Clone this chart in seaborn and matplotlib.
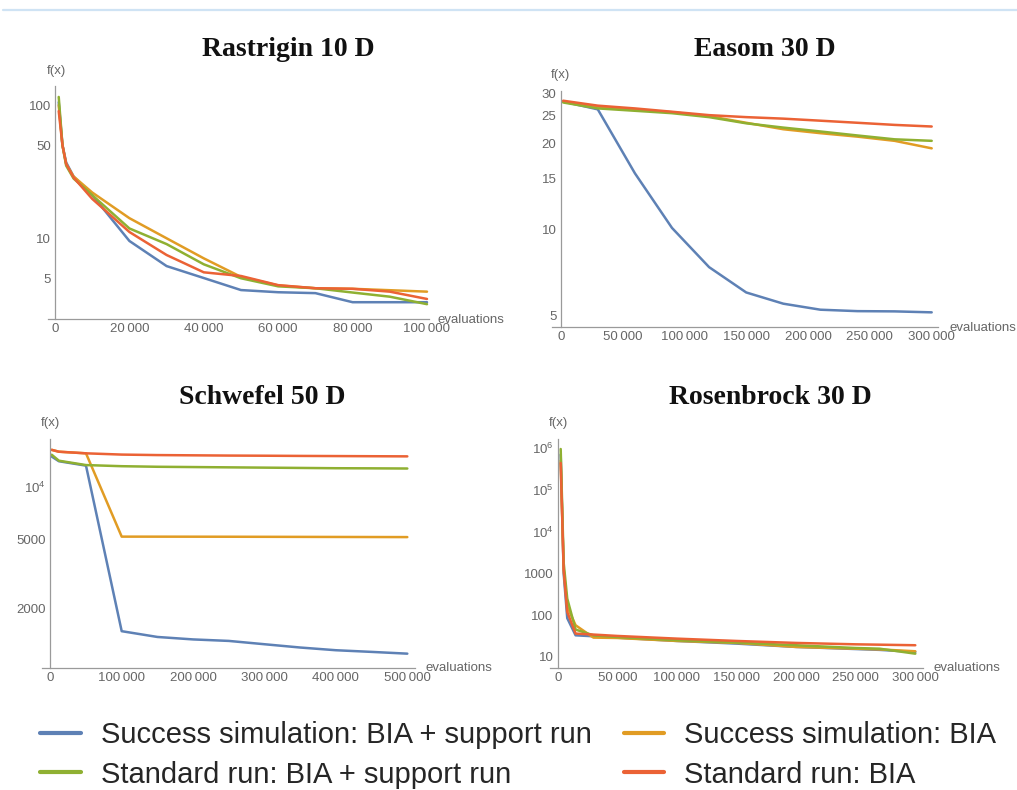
"""
Convergence of BIA runs on four benchmark functions (log-scale f(x) vs evaluations).
"""
import numpy as np
import pandas as pd
import matplotlib
matplotlib.use('Agg')
import matplotlib.pyplot as plt
import matplotlib.ticker as mticker
from matplotlib.lines import Line2D
import seaborn as sns

# ---- data ----
series_names = ['Success simulation: BIA + support run', 'Success simulation: BIA',
                'Standard run: BIA + support run', 'Standard run: BIA']

# Rastrigin 10 D
ras_x = [1000, 2000, 3000, 5000, 10000, 20000, 30000, 40000, 50000, 60000, 70000, 80000, 90000, 100000]
ras_blue = [105, 50, 37, 29, 21, 9.5, 6.15, 5.0, 4.06, 3.91, 3.85, 3.29, 3.29, 3.29]
ras_orange = [100, 50, 36, 29, 22, 14.1, 9.95, 7.03, 5.1, 4.4, 4.19, 4.15, 4.05, 3.95]
ras_green = [115, 50, 35, 28, 21, 11.8, 9.0, 6.34, 4.98, 4.33, 4.19, 3.89, 3.62, 3.18]
ras_red = [90, 50, 36, 28.5, 19.7, 11.1, 7.45, 5.52, 5.18, 4.42, 4.19, 4.15, 3.95, 3.48]

# Easom 30 D
eas_x = [2000, 30000, 60000, 90000, 120000, 150000, 180000, 210000, 240000, 270000, 300000]
eas_blue = [28.0, 26.3, 15.7, 10.1, 7.36, 6.0, 5.48, 5.22, 5.16, 5.15, 5.11]
eas_orange = [28.0, 26.9, 26.2, 25.7, 24.9, 23.6, 22.4, 21.7, 21.1, 20.4, 19.2]
eas_green = [27.8, 26.5, 26.0, 25.5, 24.7, 23.5, 22.7, 22.0, 21.3, 20.65, 20.4]
eas_red = [28.2, 27.1, 26.5, 25.8, 25.1, 24.7, 24.4, 24.0, 23.6, 23.2, 22.9]

# Schwefel 50 D
sch_x = [2000, 12000, 50000, 100000, 150000, 200000, 250000, 300000, 350000, 400000, 450000, 500000]
sch_blue = [15000, 14100, 13300, 1477, 1368, 1324, 1298, 1242, 1189, 1147, 1122, 1096]
sch_orange = [16400, 16000, 15660, 5182, 5180, 5178, 5175, 5170, 5165, 5160, 5155, 5150]
sch_green = [15370, 14200, 13400, 13200, 13100, 13050, 13000, 12950, 12900, 12850, 12830, 12800]
sch_red = [16400, 16000, 15660, 15400, 15300, 15250, 15200, 15170, 15130, 15100, 15070, 15040]

# Rosenbrock 30 D
ros_x = [2500, 5000, 8000, 15000, 30000, 50000, 100000, 150000, 200000, 250000, 270000, 300000]
ros_blue = [7e5, 1000, 85, 33, 31.3, 29, 24.2, 20.9, 17.4, 15.5, 14.8, 13.2]
ros_orange = [5e5, 1300, 160, 57.5, 29.1, 28.5, 24.2, 21.7, 17.4, 15.8, 15.2, 13.7]
ros_green = [9.5e5, 1800, 250, 45.3, 33, 30, 25.1, 22.1, 19.1, 16.4, 15.8, 12.0]
ros_red = [4.4e5, 1200, 120, 36.3, 34.4, 31.9, 27.5, 24.2, 21.7, 20.1, 19.7, 19.1]

colors = ['#5E81B5', '#E19C24', '#8FB032', '#EB6235']

W, H = 1017, 790
AXIS_COLOR = '#9a9a9a'
LABEL_COLOR = '#666666'

sns.set_theme(style='white')
plt.rcParams['font.family'] = ['Liberation Sans', 'DejaVu Sans']
plt.rcParams['mathtext.fontset'] = 'custom'
plt.rcParams['mathtext.rm'] = 'Liberation Sans'


def px_rect(l, t, r, b):
    return [l / W, 1 - b / H, (r - l) / W, (b - t) / H]


def fmt_x(v, pos):
    if v == 0:
        return '0'
    return f'{int(round(v)):,}'.replace(',', '\u2009')


def draw_panel(fig, rect, x, values, xlim, ylim, xmajor, xminor,
               yticks, ylabels, yminor, title, title_xy, fx_xy, eval_xy):
    ax = fig.add_axes(px_rect(*rect))
    n = len(x)
    df = pd.DataFrame({
        'evaluations': np.tile(x, 4),
        'f': np.concatenate(values),
        'series': np.repeat(series_names, n),
    })
    sns.lineplot(data=df, x='evaluations', y='f', hue='series', hue_order=series_names,
                 palette=colors, estimator=None, sort=False, legend=False,
                 linewidth=1.8, ax=ax)
    ax.set_yscale('log')
    ax.set_xlim(*xlim)
    ax.set_ylim(*ylim)
    ax.set_xlabel('')
    ax.set_ylabel('')

    # Mathematica-like axes: left axis through x=0, ticks pointing inside
    for s in ['top', 'right']:
        ax.spines[s].set_visible(False)
    ax.spines['left'].set_position(('data', 0))
    for s in ['left', 'bottom']:
        ax.spines[s].set_color(AXIS_COLOR)
        ax.spines[s].set_linewidth(0.9)

    ax.xaxis.set_major_locator(mticker.MultipleLocator(xmajor))
    ax.xaxis.set_minor_locator(mticker.MultipleLocator(xminor))
    ax.xaxis.set_major_formatter(mticker.FuncFormatter(fmt_x))
    ax.yaxis.set_major_locator(mticker.FixedLocator(yticks))
    ax.yaxis.set_major_formatter(mticker.FixedFormatter(ylabels))
    if yminor is None:
        ax.yaxis.set_minor_locator(mticker.LogLocator(base=10, subs=np.arange(2, 10), numticks=20))
    else:
        ax.yaxis.set_minor_locator(mticker.FixedLocator(yminor))
    ax.yaxis.set_minor_formatter(mticker.NullFormatter())

    ax.tick_params(which='both', direction='in', color=AXIS_COLOR, labelcolor=LABEL_COLOR,
                   labelsize=9.5, width=0.8)
    ax.tick_params(which='major', length=5, pad=3)
    ax.tick_params(which='minor', length=3)

    fig.text(title_xy[0] / W, 1 - title_xy[1] / H, title, family='Liberation Serif',
             weight='bold', size=20, ha='center', va='center', color='#111111')
    fig.text(fx_xy[0] / W, 1 - fx_xy[1] / H, 'f(x)', size=9.5, color=LABEL_COLOR,
             ha='center', va='center')
    fig.text(eval_xy[0] / W, 1 - eval_xy[1] / H, 'evaluations', size=9.5, color=LABEL_COLOR,
             ha='left', va='center')
    return ax


fig = plt.figure(figsize=(W / 100, H / 100), dpi=100)

draw_panel(fig, (48, 86, 429, 319), ras_x, [ras_blue, ras_orange, ras_green, ras_red],
           (-1882, 100538), (2.46, 139), 20000, 5000,
           [5, 10, 50, 100], ['5', '10', '50', '100'],
           [3, 4, 6, 7, 8, 9, 20, 30, 40, 60, 70, 80, 90],
           'Rastrigin 10 D', (288, 50), (56, 71), (438, 320))

draw_panel(fig, (552, 91, 938, 327), eas_x, [eas_blue, eas_orange, eas_green, eas_red],
           (-7035, 305094), (4.54, 30.5), 50000, 10000,
           [5, 10, 15, 20, 25, 30], ['5', '10', '15', '20', '25', '30'],
           [6, 7, 8, 9, 11, 12, 13, 14, 16, 17, 18, 19, 21, 22, 23, 24, 26, 27, 28, 29],
           'Easom 30 D', (765, 50), (560, 75), (950, 328))

draw_panel(fig, (42, 439, 415, 668), sch_x, [sch_blue, sch_orange, sch_green, sch_red],
           (-11613, 510770), (906, 18940), 100000, 20000,
           [2000, 5000, 10000], ['2000', '5000', r'$\mathregular{10^4}$'],
           [1000, 3000, 4000, 6000, 7000, 8000, 9000],
           'Schwefel 50 D', (262, 398), (50, 423), (425, 668))

draw_panel(fig, (550, 439, 923, 668), ros_x, [ros_blue, ros_orange, ros_green, ros_red],
           (-6465, 306465), (5.45, 1.65e6), 50000, 10000,
           [10, 100, 1000, 1e4, 1e5, 1e6],
           ['10', '100', '1000', r'$\mathregular{10^4}$', r'$\mathregular{10^5}$', r'$\mathregular{10^6}$'],
           None,
           'Rosenbrock 30 D', (770, 398), (558, 423), (933, 668))

# thin light-blue rule across the top
fig.add_artist(Line2D([3 / W, 1.0], [1 - 10 / H, 1 - 10 / H], color='#cfe3f4', lw=1.6))

# legend: column-major fill -> blue, green | orange, red
order = [0, 2, 1, 3]
handles = [Line2D([], [], color=colors[i], lw=3) for i in order]
labels = [series_names[i] for i in order]
fig.legend(handles, labels, ncol=2, loc='upper left', bbox_to_anchor=(40 / W, 1 - 721 / H),
           frameon=False, fontsize=21, handlelength=1.4, handletextpad=0.68,
           columnspacing=1.1, labelspacing=0.4, borderpad=0, borderaxespad=0)

fig.savefig('out.png', dpi=100, facecolor='white')
plt.close(fig)
